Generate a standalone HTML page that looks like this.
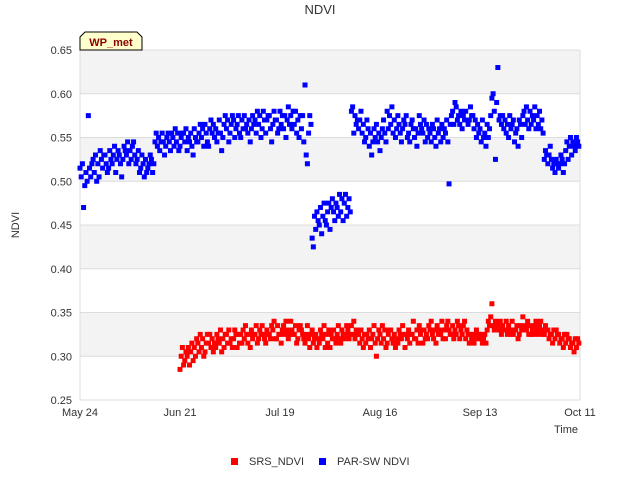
<!DOCTYPE html>
<html><head><meta charset="utf-8"><style>
body{margin:0;background:#fff;}
svg{display:block;font-family:"Liberation Sans","DejaVu Sans",sans-serif;}
</style></head><body>
<svg id="chart" width="640" height="480" xmlns="http://www.w3.org/2000/svg">
<text x="320" y="14" text-anchor="middle" font-size="13" fill="#333">NDVI</text>
<g id="bands"></g>
<g id="grid"></g>
<g id="yticks"></g>
<g id="xticks"></g>
<text transform="translate(19,225) rotate(-90)" text-anchor="middle" font-size="11" fill="#333">NDVI</text>
<text x="578" y="433" text-anchor="end" font-size="11" fill="#333">Time</text>
<g id="pts"></g>
<g>
<path d="M80,50 L80,37 L85,32 L137,32 L142,37 L142,50 Z" fill="#ffffcc" stroke="#000" stroke-width="1"/>
<text x="111" y="46" text-anchor="middle" font-size="11" font-weight="bold" fill="#8b0000">WP_met</text>
</g>
<g>
<g><rect x="231" y="458" width="7" height="7" fill="#f00"/><text x="249" y="465" font-size="11" fill="#333">SRS_NDVI</text></g>
<g><rect x="319" y="458" width="7" height="7" fill="#00f"/><text x="337" y="465" font-size="11" fill="#333">PAR-SW NDVI</text></g>
</g>
</svg>
<script>
const yTicks=[0.25,0.30,0.35,0.40,0.45,0.50,0.55,0.60,0.65];
const xTickLabels=["May 24","Jun 21","Jul 19","Aug 16","Sep 13","Oct 11"];
const xTickDays=[0,28,56,84,112,140];
const blueStart=0;
const blueVals=[[.515,.505,.520],[.470,.495,.510],[.500,.575,.515],[.505,.520,.525],[.510,.530,.500],[.520,.505,.535],[.525,.515,.530],[.530,.520,.510],[.515,.535,.525],[.520,.530,.540],[.510,.525,.535],[.530,.520,.505],[.525,.540,.535],[.530,.545,.520],[.535,.525,.540],[.545,.530,.520],[.525,.535,.510],[.515,.530,.520],[.505,.525,.510],[.515,.520,.530],[.525,.510,.520],[.545,.555,.540],[.550,.535,.545],[.555,.545,.530],[.540,.550,.555],[.545,.535,.555],[.550,.540,.560],[.545,.555,.535],[.540,.550,.555],[.555,.545,.560],[.535,.550,.545],[.555,.540,.530],[.560,.550,.545],[.545,.555,.565],[.550,.560,.540],[.565,.555,.545],[.540,.560,.570],[.555,.565,.550],[.560,.545,.555],[.570,.555,.535],[.550,.565,.575],[.560,.570,.545],[.555,.565,.575],[.570,.550,.560],[.565,.575,.555],[.550,.570,.560],[.575,.560,.565],[.555,.570,.545],[.560,.575,.565],[.570,.555,.580],[.565,.575,.550],[.560,.580,.570],[.555,.570,.575],[.575,.560,.545],[.565,.580,.570],[.570,.555,.560],[.580,.565,.575],[.560,.575,.550],[.570,.585,.565],[.575,.560,.580],[.565,.580,.555],[.570,.550,.575],[.560,.575,.545],[.610,.530,.520],[.555,.575,.565],[.435,.425,.460],[.445,.465,.455],[.450,.470,.440],[.460,.475,.455],[.450,.465,.475],[.445,.470,.480],[.465,.455,.475],[.470,.460,.485],[.465,.480,.455],[.475,.485,.460],[.470,.480,.465],[.580,.585,.555],[.575,.565,.570],[.560,.570,.580],[.555,.565,.545],[.550,.570,.560],[.540,.555,.530],[.545,.560,.550],[.565,.545,.555],[.535,.550,.560],[.570,.555,.545],[.580,.560,.575],[.565,.585,.555],[.570,.550,.560],[.575,.565,.555],[.545,.560,.570],[.565,.575,.550],[.555,.545,.565],[.570,.560,.550],[.560,.540,.555],[.575,.565,.560],[.555,.570,.545],[.565,.550,.560],[.555,.545,.565],[.560,.550,.540],[.570,.555,.560],[.545,.565,.550],[.560,.555,.570],[.545,.497,.565],[.575,.580,.565],[.590,.585,.570],[.575,.565,.580],[.560,.575,.570],[.580,.570,.565],[.570,.585,.575],[.575,.560,.570],[.550,.565,.555],[.560,.545,.570],[.550,.555,.540],[.565,.550,.560],[.575,.595,.600],[.580,.525,.590],[.630,.570,.575],[.565,.575,.560],[.570,.555,.565],[.550,.575,.560],[.565,.570,.545],[.555,.560,.540],[.570,.565,.550],[.575,.580,.565],[.585,.570,.560],[.580,.565,.575],[.570,.585,.560],[.575,.565,.580],[.560,.570,.555],[.525,.535,.530],[.520,.530,.540],[.525,.515,.520],[.510,.525,.520],[.515,.520,.530],[.525,.510,.520],[.535,.545,.525],[.540,.550,.530],[.545,.540,.535],[.550,.545,.540]];
const redStart=28;
const redVals=[[.285,.300,.310],[.290,.295,.305],[.300,.310,.290],[.305,.315,.295],[.310,.300,.320],[.315,.305,.325],[.310,.320,.300],[.305,.315,.325],[.315,.325,.310],[.320,.305,.315],[.310,.325,.320],[.315,.330,.305],[.320,.310,.325],[.325,.315,.330],[.315,.320,.310],[.320,.330,.325],[.310,.325,.315],[.325,.315,.330],[.320,.335,.325],[.315,.325,.310],[.330,.320,.325],[.325,.335,.315],[.320,.330,.325],[.335,.325,.320],[.315,.330,.325],[.325,.320,.335],[.330,.340,.320],[.320,.335,.325],[.325,.315,.330],[.335,.325,.340],[.330,.320,.325],[.340,.330,.325],[.325,.335,.315],[.320,.330,.335],[.330,.325,.320],[.315,.325,.335],[.320,.310,.325],[.330,.315,.320],[.325,.310,.320],[.315,.330,.325],[.320,.335,.310],[.325,.315,.330],[.310,.325,.320],[.330,.320,.315],[.325,.335,.320],[.315,.330,.325],[.320,.325,.335],[.330,.320,.325],[.335,.325,.340],[.320,.330,.325],[.325,.315,.330],[.320,.310,.325],[.315,.325,.320],[.330,.310,.320],[.325,.335,.315],[.300,.320,.330],[.325,.315,.335],[.320,.330,.310],[.315,.325,.330],[.330,.320,.315],[.325,.310,.320],[.315,.330,.325],[.320,.335,.325],[.310,.325,.320],[.330,.315,.325],[.325,.340,.320],[.320,.330,.315],[.335,.325,.330],[.315,.330,.320],[.325,.320,.335],[.330,.340,.325],[.320,.330,.315],[.335,.325,.330],[.325,.340,.320],[.330,.320,.335],[.340,.330,.325],[.325,.335,.320],[.330,.325,.340],[.335,.320,.330],[.325,.335,.340],[.320,.330,.325],[.315,.325,.320],[.320,.315,.325],[.330,.320,.325],[.325,.320,.315],[.320,.325,.315],[.330,.340,.335],[.345,.360,.335],[.330,.340,.335],[.335,.330,.340],[.325,.335,.330],[.330,.340,.325],[.335,.330,.325],[.340,.325,.330],[.330,.335,.320],[.325,.335,.330],[.345,.330,.335],[.330,.340,.325],[.335,.325,.330],[.325,.335,.340],[.330,.325,.335],[.340,.330,.325],[.325,.335,.330],[.330,.320,.325],[.325,.315,.330],[.320,.330,.325],[.325,.315,.320],[.320,.310,.325],[.315,.325,.320],[.320,.310,.315],[.315,.305,.320],[.310,.320,.315]];
const NS="http://www.w3.org/2000/svg";
const L=80,R=580,T=50,B=400,D0=0,D1=140,V0=0.25,V1=0.65;
function xs(d){return L+(d-D0)/(D1-D0)*(R-L);}
function ys(v){return B-(v-V0)/(V1-V0)*(B-T);}
function mk(tag,attrs,parent){const e=document.createElementNS(NS,tag);for(const k in attrs)e.setAttribute(k,attrs[k]);parent.appendChild(e);return e;}
const bands=document.getElementById('bands'),grid=document.getElementById('grid'),yt=document.getElementById('yticks'),xt=document.getElementById('xticks'),pts=document.getElementById('pts');
mk('rect',{x:L,y:T,width:R-L,height:B-T,fill:'#fff'},bands);
for(let i=0;i<yTicks.length-1;i++){
  if(i%2===1){const r=mk('rect',{x:L,y:ys(yTicks[i+1]),width:R-L,height:ys(yTicks[i])-ys(yTicks[i+1]),fill:'#f3f3f3'},bands);
  
  }
}
yTicks.forEach(v=>{
  const l=mk('line',{x1:L,x2:R,y1:ys(v),y2:ys(v),stroke:'#dcdcdc','stroke-width':1},grid);
  
  
  const t=mk('text',{x:L-8,y:ys(v)+4,'text-anchor':'end','font-size':11,fill:'#333'},yt);
  t.textContent=v.toFixed(2);
  
  
});
mk('line',{x1:R,x2:R,y1:T,y2:B,stroke:'#dcdcdc'},grid);
mk('line',{x1:L,x2:L,y1:T,y2:B,stroke:'#dcdcdc'},grid);
xTickLabels.forEach((s,i)=>{
  const t=mk('text',{x:xs(xTickDays[i]),y:416,'text-anchor':'middle','font-size':11,fill:'#333'},xt);
  t.textContent=s;
  
  
});
function drawSeries(start,vals,color,name){
  vals.forEach((arr,di)=>{arr.forEach((v,j)=>{
    const d=start+di+j/arr.length;
    const r=mk('rect',{x:xs(d)-2.5,y:ys(v)-2.5,width:5,height:5,fill:color},pts);
    
    
  });});
}
drawSeries(redStart,redVals,'#f00','srs-ndvi-point');
drawSeries(blueStart,blueVals,'#00f','par-sw-ndvi-point');
</script>
</body></html>
